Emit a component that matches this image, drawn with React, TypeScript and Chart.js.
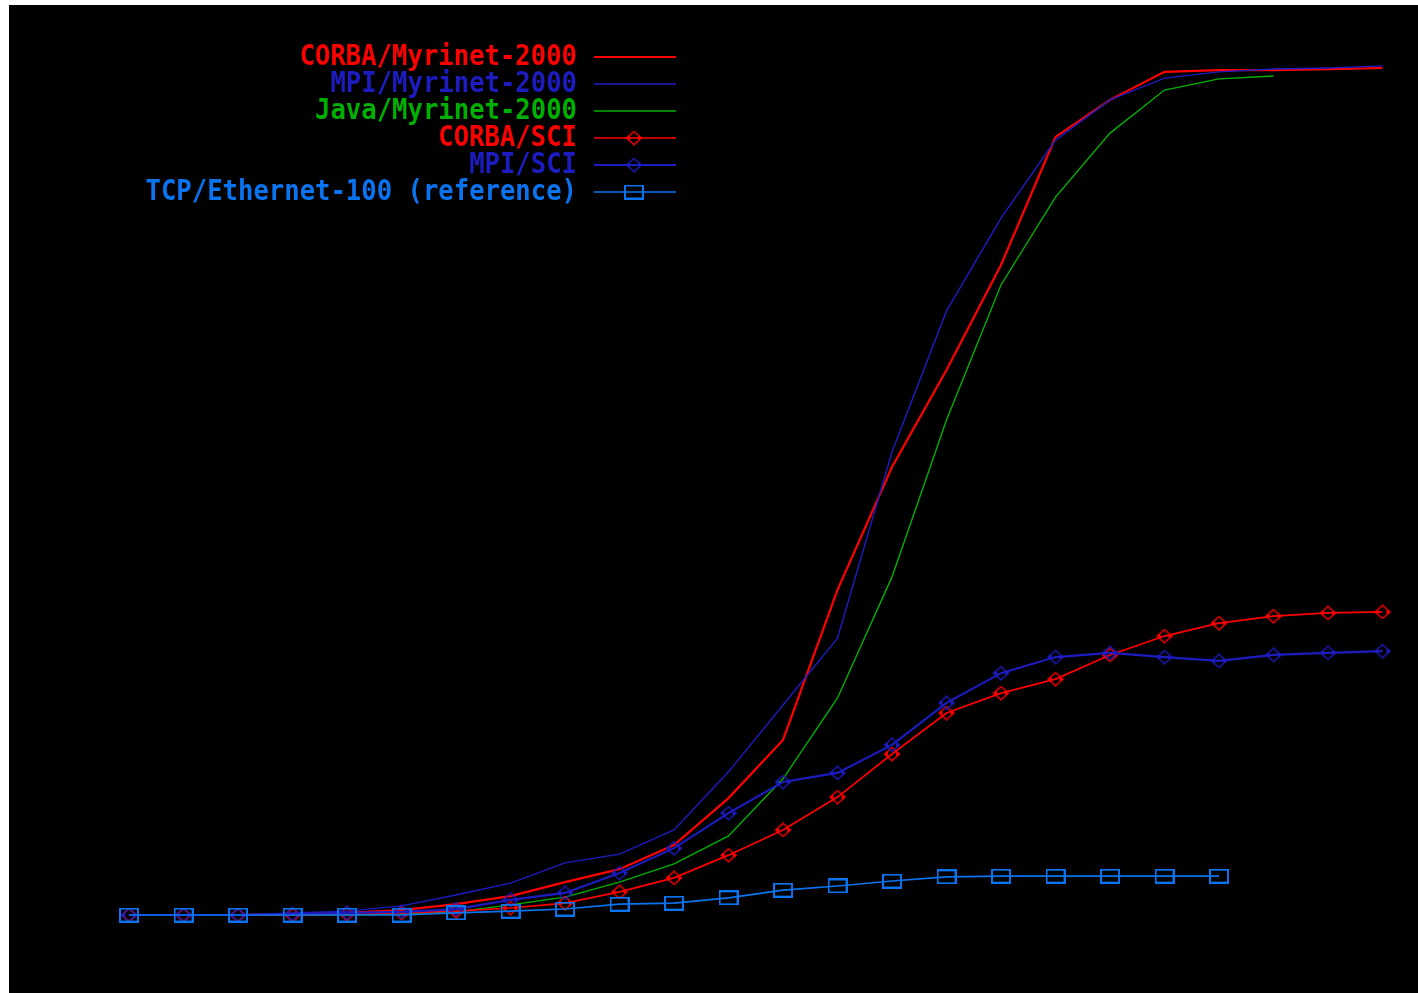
import React, { useEffect, useRef } from "react";
import { Chart, registerables } from "chart.js";

Chart.register(...registerables);

// message sizes (bytes), one per x position
const categories = Array.from({ length: 24 }, (_, i) => 2 ** i);

const seriesLabels = [
  "CORBA/Myrinet-2000",
  "MPI/Myrinet-2000",
  "Java/Myrinet-2000",
  "CORBA/SCI",
  "MPI/SCI",
  "TCP/Ethernet-100 (reference)",
];

// throughput values (MB/s)
const corbaMyrinet = [0, 0, 0, 0.3, 0.6, 1.4, 3.1, 5.4, 9.4, 13.1, 20.0, 33.4, 50.0, 92.9, 128.0, 155.7, 185.7, 222.3, 232.9, 240.9, 241.4, 241.4, 241.7, 242.0];
const mpiMyrinet = [0, 0, 0, 0.6, 1.1, 2.6, 5.7, 9.1, 14.9, 17.4, 24.3, 40.9, 60.0, 79.1, 132.3, 172.6, 199.1, 221.4, 232.9, 239.1, 240.9, 241.7, 242.0, 242.6];
const javaMyrinet = [0, 0, 0, 0, 0, 0.3, 0.9, 2.9, 5.1, 9.4, 14.6, 22.6, 38.9, 62.0, 96.6, 141.4, 180.0, 205.1, 223.4, 235.7, 238.9, 239.7];
const corbaSci = [0, 0, 0, 0, 0.3, 0.6, 1.1, 2.0, 3.4, 6.6, 10.6, 17.1, 24.3, 33.7, 46.0, 57.7, 63.4, 67.4, 74.3, 79.7, 83.4, 85.4, 86.3, 86.6];
const mpiSci = [0, 0, 0, 0.3, 0.6, 0.9, 1.7, 4.3, 6.3, 12.0, 19.1, 29.1, 38.0, 40.6, 48.6, 60.6, 69.1, 73.7, 74.9, 73.7, 72.6, 74.3, 74.9, 75.4];
const tcpEthernet = [0, 0, 0, 0, 0, 0, 0.6, 1.1, 1.7, 3.1, 3.4, 4.9, 7.1, 8.3, 9.7, 10.9, 11.1, 11.1, 11.1, 11.1, 11.1];

const RED = "#ff0000";
const BLUE = "#1c1cc0";
const GREEN = "#00b000";
const LIGHTBLUE = "#0a74f0";

function diamondMarker(color: string) {
  const c = document.createElement("canvas");
  c.width = 18;
  c.height = 15;
  const g = c.getContext("2d")!;
  g.strokeStyle = color;
  g.lineWidth = 1.4;
  g.beginPath();
  g.moveTo(9, 1);
  g.lineTo(16.5, 7.5);
  g.lineTo(9, 14);
  g.lineTo(1.5, 7.5);
  g.closePath();
  g.stroke();
  g.fillStyle = color;
  g.fillRect(2, 6, 3, 3);
  g.fillRect(13, 6, 3, 3);
  return c;
}

function squareMarker(color: string) {
  const c = document.createElement("canvas");
  c.width = 20;
  c.height = 15;
  const g = c.getContext("2d")!;
  g.strokeStyle = color;
  g.lineWidth = 2;
  g.strokeRect(1, 1, 18, 13);
  return c;
}

const toPts = (arr: number[]) => arr.map((v, i) => ({ x: i, y: v }));

export default function App() {
  const ref = useRef<HTMLCanvasElement | null>(null);

  useEffect(() => {
    if (!ref.current) return;
    const redDia = diamondMarker(RED);
    const blueDia = diamondMarker(BLUE);
    const sq = squareMarker(LIGHTBLUE);

    const styles = [
      { color: RED, width: 2.2, marker: null as HTMLCanvasElement | null },
      { color: BLUE, width: 1.4, marker: null },
      { color: GREEN, width: 1.4, marker: null },
      { color: RED, width: 1.7, marker: redDia },
      { color: BLUE, width: 2.2, marker: blueDia },
      { color: LIGHTBLUE, width: 1.6, marker: sq },
    ];
    const values = [corbaMyrinet, mpiMyrinet, javaMyrinet, corbaSci, mpiSci, tcpEthernet];

    const bgPlugin = {
      id: "bg",
      beforeDraw(chart: any) {
        const { ctx, width, height } = chart;
        ctx.save();
        ctx.fillStyle = "#000";
        ctx.fillRect(0, 0, width, height);
        ctx.restore();
      },
    };

    const keyPlugin = {
      id: "gnukey",
      afterDraw(chart: any) {
        const ctx = chart.ctx as CanvasRenderingContext2D;
        ctx.save();
        seriesLabels.forEach((lab, i) => {
          const y = 52 + i * 27;
          const s = styles[i];
          ctx.save();
          ctx.translate(568, y + 1);
          ctx.scale(1, 1.12);
          ctx.font = "bold 25.6px 'DejaVu Sans Mono'";
          ctx.textAlign = "right";
          ctx.textBaseline = "middle";
          ctx.fillStyle = s.color;
          ctx.fillText(lab, 0, 0);
          ctx.restore();
          ctx.strokeStyle = s.color;
          ctx.lineWidth = s.width;
          ctx.beginPath();
          ctx.moveTo(585, y);
          ctx.lineTo(667, y);
          ctx.stroke();
          if (s.marker) {
            ctx.drawImage(s.marker, 625 - s.marker.width / 2, y - s.marker.height / 2);
          }
        });
        ctx.restore();
      },
    };

    const chart = new Chart(ref.current, {
      type: "line",
      data: {
        datasets: values.map((arr, i) => ({
          label: seriesLabels[i],
          data: toPts(arr),
          borderColor: styles[i].color,
          backgroundColor: styles[i].color,
          borderWidth: styles[i].width,
          pointStyle: styles[i].marker ? (styles[i].marker as any) : false,
          pointRadius: styles[i].marker ? 8 : 0,
          tension: 0,
          fill: false,
          order: 10 - i,
        })),
      },
      options: {
        animation: false,
        responsive: false,
        devicePixelRatio: 1,
        layout: { padding: 0, autoPadding: false },
        plugins: {
          legend: { display: false },
          tooltip: { enabled: false },
          title: { display: false },
        },
        scales: {
          x: { type: "linear", display: false, min: -2.2018, max: 23.651 },
          y: { type: "linear", display: false, min: -22.2857, max: 260 },
        },
      },
      plugins: [bgPlugin, keyPlugin],
    });
    return () => chart.destroy();
  }, []);

  return (
    <div style={{ position: "absolute", left: 9, top: 5, width: 1409, height: 988 }}>
      <canvas ref={ref} width={1409} height={988} style={{ display: "block" }} />
    </div>
  );
}
